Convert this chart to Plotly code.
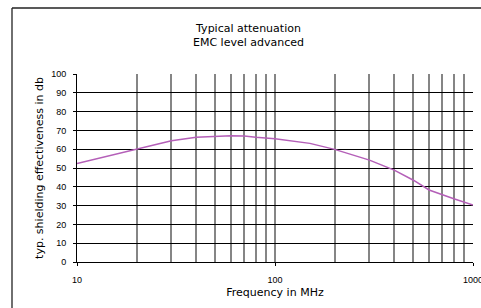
import plotly.graph_objects as go

freq_mhz = [10, 20, 30, 40, 50, 60, 70, 80, 100, 150, 200, 300, 400, 500, 600, 700, 800, 1000]
attenuation_db = [52.4, 60.0, 64.5, 66.3, 66.8, 67.1, 67.0, 66.3, 65.6, 63.1, 59.9, 54.2, 48.9, 43.5, 38.3, 35.6, 33.6, 30.3]
x_tick_vals = [10, 100, 1000]
x_tick_text = ["10", "100", "1000"]
y_tick_vals = [0, 10, 20, 30, 40, 50, 60, 70, 80, 90, 100]

title_lines = ["Typical attenuation", "EMC level advanced"]
x_title = "Frequency in MHz"
y_title = "typ. shielding effectiveness in db"

W, H = 481, 308
ml, mr, mt, mb = 77, 8, 74, 46
pw, ph = W - ml - mr, H - mt - mb

def px_x(p):
    return (p - ml) / pw

def px_y(p):
    return (H - mb - p) / ph

fig = go.Figure()
fig.add_trace(go.Scatter(
    x=freq_mhz, y=attenuation_db, mode="lines",
    line=dict(color="#b45fb8", width=1.5),
    hoverinfo="skip", showlegend=False,
))

tick_font = dict(family="Liberation Sans, Arial, sans-serif", size=9, color="#000")
title_font = dict(family="DejaVu Sans, sans-serif", size=11, color="#000")

border = dict(color="#222", width=1.3)

fig.update_layout(
    width=W, height=H,
    margin=dict(l=ml, r=mr, t=mt, b=mb, pad=0),
    paper_bgcolor="white", plot_bgcolor="white",
    xaxis=dict(
        type="log", range=[1, 3], automargin=False,
        tickvals=x_tick_vals, ticktext=x_tick_text,
        ticks="outside", ticklen=3, tickcolor="#000", tickwidth=1,
        tickfont=tick_font, ticklabelstandoff=6, ticklabeloverflow="allow",
        showgrid=True, gridcolor="#858585", gridwidth=2,
        minor=dict(dtick="D1", showgrid=True, gridcolor="#858585", gridwidth=2, ticks=""),
        showline=True, linecolor="#000", linewidth=1,
        zeroline=False,
        title=dict(text=x_title, font=title_font, standoff=4),
    ),
    yaxis=dict(
        range=[0, 100], tickvals=y_tick_vals, automargin=False,
        ticks="outside", ticklen=3, tickcolor="#000", tickwidth=1,
        tickfont=tick_font, ticklabelstandoff=5,
        showgrid=True, gridcolor="#000", gridwidth=1,
        showline=True, linecolor="#000", linewidth=1,
        zeroline=False,
        title=dict(text=y_title, font=title_font, standoff=5),
    ),
    shapes=[
        dict(type="line", xref="paper", yref="paper",
             x0=px_x(12), x1=px_x(12), y0=px_y(8), y1=px_y(308), line=border),
        dict(type="line", xref="paper", yref="paper",
             x0=px_x(12), x1=px_x(481), y0=px_y(8), y1=px_y(8), line=border),
    ],
    annotations=[dict(
        text="<br>".join(title_lines), xref="paper", yref="paper",
        x=px_x(248), y=px_y(35), xanchor="center", yanchor="middle",
        showarrow=False, font=title_font,
    )],
)

fig.write_html(
    "out.html",
    config={"displayModeBar": False, "staticPlot": True},
    post_script="document.body.style.margin='0';document.body.style.overflow='hidden';",
)
